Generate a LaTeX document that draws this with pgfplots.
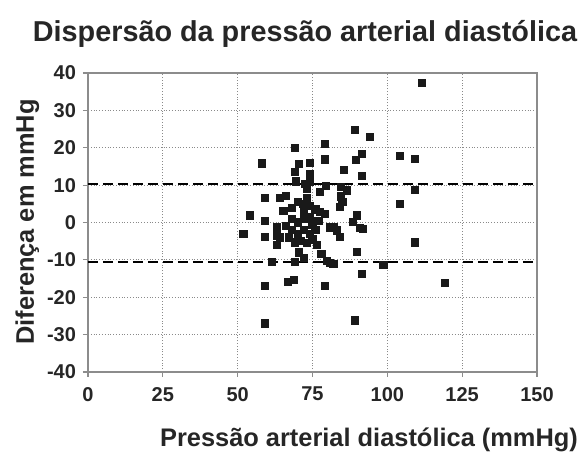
\documentclass[border=0pt]{standalone}
\usepackage{fontspec}
\setmainfont{Liberation Sans}
\usepackage{pgfplots}
\pgfplotsset{compat=1.18}
\definecolor{txt}{HTML}{262626}
\definecolor{axgray}{HTML}{8C8C8C}
\definecolor{gridgray}{HTML}{8A8A8A}
\begin{document}
\begin{tikzpicture}
\path[use as bounding box] (-44pt,-42pt) rectangle (246pt,186pt);
\begin{axis}[
  at={(0,0)}, anchor=south west,
  scale only axis, width=224.5pt, height=149.5pt,
  xmin=0, xmax=150, ymin=-40, ymax=40,
  xtick={0,25,50,75,100,125,150},
  ytick={-40,-30,-20,-10,0,10,20,30,40},
  axis line style={axgray, line width=0.9pt},
  tick style={axgray, line width=0.6pt},
  tick align=outside,
  major tick length=2.5pt,
  xtick pos=bottom, ytick pos=left,
  grid=major,
  major grid style={gridgray, line width=0.6pt, dash pattern=on 0.5pt off 0.9pt},
  /pgf/number format/assume math mode=true,
  ticklabel style={font=\fontsize{10}{12}\selectfont\bfseries, text=txt},
  xticklabel style={yshift=-1.5pt},
  clip=false,
]
\addplot[only marks, mark=square*, mark size=1.8pt, color=black!90] coordinates {
(111.5,37.3) (89.2,24.8) (94.2,22.8) (79.2,21.0) (69.2,19.9)
(58.0,15.8) (70.5,15.7) (79.2,16.9) (89.5,16.7) (91.6,18.4)
(104.2,17.8) (109.3,17.0) (74.2,16.0) (74.2,13.0) (69.2,13.5)
(85.5,14.0) (91.6,12.5) (69.5,11.0) (72.5,10.3) (74.2,10.8)
(79.5,9.8) (84.5,9.6) (86.4,8.6) (77.5,8.1) (73.0,9.0)
(84.5,7.0) (85.0,5.5) (84.2,4.2) (59.1,6.5) (64.1,6.5)
(66.2,7.2) (104.2,4.9) (109.3,8.8) (54.1,1.9) (65.3,3.0)
(59.1,0.5) (51.9,-3.0) (59.1,-3.9) (63.1,-1.3) (63.1,-3.5)
(63.1,-6.0) (64.1,-4.0) (89.8,1.9) (79.2,2.3) (77.5,2.8)
(82.0,-1.3) (88.6,0.1) (90.9,-1.5) (84.2,-3.9) (76.4,-6.1)
(78.0,-8.4) (79.7,-10.2) (82.0,-11.0) (80.9,-10.8) (89.8,-7.9)
(91.4,-13.7) (79.2,-17.0) (59.1,-17.0) (66.8,-16.0) (68.8,-15.3)
(59.1,-27.0) (89.2,-26.2) (61.4,-10.6) (69.2,-10.6) (69.2,-5.3)
(98.7,-11.3) (119.3,-16.2) (109.3,-5.3) (91.8,-1.7) (71.9,5.0)
(74.2,1.4) (68,4) (70,5.5) (72,3) (74,4.5) (76,3.5) (68,1) (70,0)
(72,1) (75,-0.5) (77,0.5) (68,-2) (70,-3) (72,-2) (74,-3) (76,-2)
(71,-5) (73,-5.5) (75,-4.5) (67,-4) (73,6.5) (66,-1) (80.9,-1.3)
(83.1,-2.1) (70.5,-8) (72,-9.5)
};
\addplot[black, line width=0.9pt, dash pattern=on 5pt off 2.5pt] coordinates {(0,10.3) (150,10.3)};
\addplot[black, line width=0.9pt, dash pattern=on 5pt off 2.5pt] coordinates {(0,-10.5) (150,-10.5)};
\end{axis}
\node[anchor=base, text=txt, font=\fontsize{14.4}{16}\selectfont\bfseries] at (108.5pt,165pt) {Dispersão da pressão arterial diastólica};
\node[anchor=base, text=txt, font=\fontsize{12.7}{14}\selectfont\bfseries] at (140.5pt,-37.5pt) {Pressão arterial diastólica (mmHg)};
\node[anchor=base, rotate=90, text=txt, font=\fontsize{12.7}{14}\selectfont\bfseries] at (-27pt,75pt) {Diferença em mmHg};
\end{tikzpicture}
\end{document}
